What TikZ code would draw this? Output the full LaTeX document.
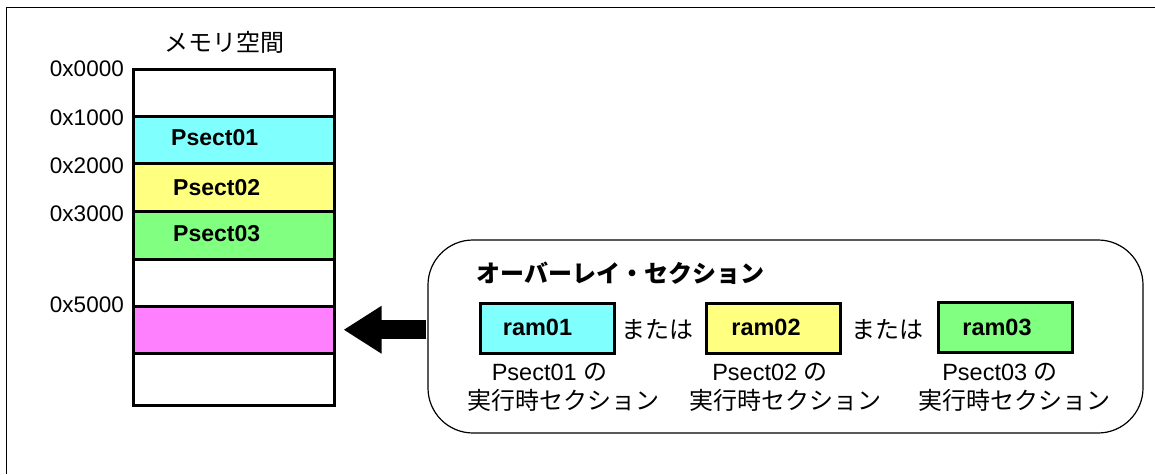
\documentclass[tikz,border=0pt]{standalone}
\usepackage{fontspec}
\setmainfont{Liberation Sans}
\newfontfamily\cjk{Noto Sans CJK JP}
\usetikzlibrary{arrows.meta,calc}
\definecolor{cyanF}{HTML}{80FFFF}
\definecolor{yellowF}{HTML}{FFFF80}
\definecolor{greenF}{HTML}{80FF80}
\definecolor{pinkF}{HTML}{FF80FF}
\tikzset{
  frameline/.style={line width=1pt},
  memrow/.style={draw, line width=3pt, minimum width=200.5pt, inner sep=0pt},
  hexlbl/.style={anchor=east, inner sep=0pt, font=\fontsize{22.5}{26}\selectfont},
  rowlbl/.style={anchor=west, inner sep=0pt, font=\fontsize{23}{27}\selectfont\bfseries},
  cjklbl/.style={inner sep=0pt, font=\fontsize{24}{28}\selectfont\cjk},
  txtlbl/.style={inner sep=0pt, font=\fontsize{23.5}{27}\selectfont},
  rambox/.style={draw, line width=3pt, minimum width=134pt, minimum height=50pt, inner sep=0pt},
  ramlbl/.style={inner sep=0pt, font=\fontsize{23.5}{27}\selectfont\bfseries},
  ovlbox/.style={draw, line width=1.2pt, rounded corners=45pt, minimum width=715pt, minimum height=193pt, inner sep=0pt},
  bigarrow/.style={line width=19pt, -{Triangle[length=38pt,width=45pt]}, shorten <=1pt}
}
\begin{document}
\begin{tikzpicture}[x=1pt,y=-1pt]
\useasboundingbox (0,0) rectangle (1155,474);
% frame
\draw[frameline] (6,474) -- (6,7.5) -- (1155,7.5);
% memory title
\node[cjklbl] (memtitle) at (224.5,42) {メモリ空間};
% memory rows
\node[memrow, minimum height=47pt] (row0) at (233.75,92.5) {};
\node[memrow, minimum height=47.5pt, fill=cyanF] (row1) at (233.75,139.75) {};
\node[memrow, minimum height=47.5pt, fill=yellowF] (row2) at (233.75,187.25) {};
\node[memrow, minimum height=48pt, fill=greenF] (row3) at (233.75,235) {};
\node[memrow, minimum height=47pt] (row4) at (233.75,282.5) {};
\node[memrow, minimum height=47.5pt, fill=pinkF] (pink) at (233.75,329.75) {};
\node[memrow, minimum height=52pt] (row6) at (233.75,379.5) {};
% row labels
\node[rowlbl] (p1) at (171,138) {Psect01};
\node[rowlbl] (p2) at (173,187.5) {Psect02};
\node[rowlbl] (p3) at (173,233.5) {Psect03};
% addresses
\node[hexlbl] (a0) at (124,69) {0x0000};
\node[hexlbl] (a1) at (124,118) {0x1000};
\node[hexlbl] (a2) at (124,166) {0x2000};
\node[hexlbl] (a3) at (124,214) {0x3000};
\node[hexlbl] (a5) at (124,305) {0x5000};
% overlay box
\node[ovlbox] (ovl) at (785.5,336.5) {};
\node[cjklbl, font=\fontsize{24}{28}\selectfont\cjk\bfseries] (ovltitle) at (620.5,273) {オーバーレイ・セクション};
% ram boxes
\node[rambox, fill=cyanF] (ram1) at (547,328.5) {};
\node[rambox, fill=yellowF] (ram2) at (773.5,328) {};
\node[rambox, fill=greenF] (ram3) at (1005,327.5) {};
\node[ramlbl] (r1) at (537.5,327) {ram01};
\node[ramlbl] (r2) at (766,327) {ram02};
\node[ramlbl] (r3) at (997,327) {ram03};
% または
\node[cjklbl] (or1) at (657.5,330) {または};
\node[cjklbl] (or2) at (887.5,330) {または};
% captions
\node[txtlbl] (c1a) at (549.5,372) {Psect01 {\cjk\fontsize{24}{28}\selectfont の}};
\node[txtlbl] (c2a) at (770,372) {Psect02 {\cjk\fontsize{24}{28}\selectfont の}};
\node[txtlbl] (c3a) at (1000,372) {Psect03 {\cjk\fontsize{24}{28}\selectfont の}};
\node[cjklbl] (c1b) at (563,400) {実行時セクション};
\node[cjklbl] (c2b) at (785,400) {実行時セクション};
\node[cjklbl] (c3b) at (1014,400) {実行時セクション};
% arrow
\coordinate (tip) at ($(pink.east)+(8,0)$);
\draw[bigarrow] (pink.east -| ovl.west) -- (tip);
\end{tikzpicture}
\end{document}
